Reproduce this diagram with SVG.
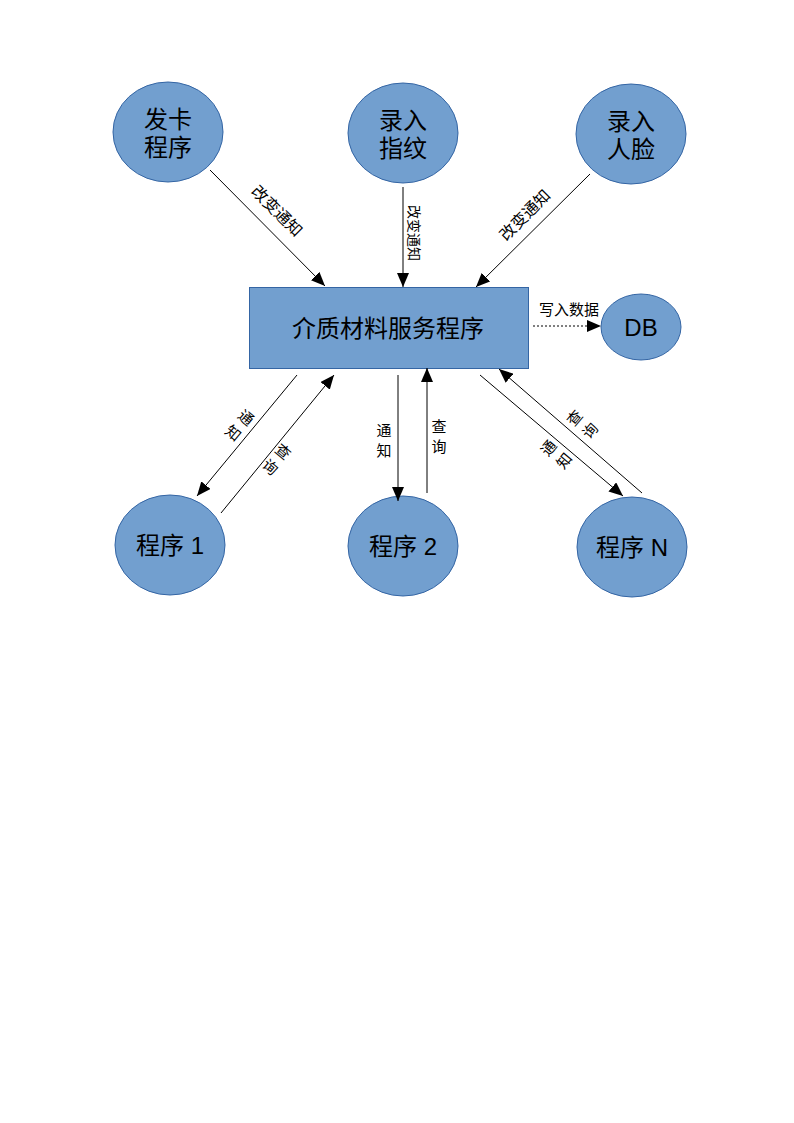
<svg xmlns="http://www.w3.org/2000/svg" width="794" height="1123" viewBox="0 0 794 1123">
<style>
.node{fill:#729fcf;stroke:#3465a4;stroke-width:1}
.nt{font-family:"Liberation Sans","Noto Sans CJK SC",sans-serif;font-size:24px;fill:#000;text-anchor:middle}
.lt{font-family:"Liberation Sans","Noto Sans CJK SC",sans-serif;font-size:15px;fill:#000;text-anchor:middle}
.ln{stroke:#000;stroke-width:1;fill:none}
</style>
<defs>
<marker id="ah" markerUnits="userSpaceOnUse" markerWidth="16" markerHeight="12" refX="14" refY="6" orient="auto">
<path d="M0,0 L14,6 L0,12 z" fill="#000"/>
</marker>
</defs>
<rect width="794" height="1123" fill="#fff"/>
<g id="n-faka"><ellipse class="node" cx="168" cy="132" rx="55" ry="50"/><text class="nt" x="168" y="128">发卡</text><text class="nt" x="168" y="156">程序</text></g>
<g id="n-zhiwen"><ellipse class="node" cx="403" cy="133" rx="55" ry="50"/><text class="nt" x="403" y="129">录入</text><text class="nt" x="403" y="157">指纹</text></g>
<g id="n-renlian"><ellipse class="node" cx="631" cy="134" rx="55" ry="50"/><text class="nt" x="631" y="130">录入</text><text class="nt" x="631" y="158">人脸</text></g>
<g id="n-service"><rect class="node" x="249.500" y="287.500" width="279" height="81"/><text class="nt" x="388" y="337">介质材料服务程序</text></g>
<g id="n-db"><ellipse class="node" cx="641" cy="327" rx="40" ry="33"/><text class="nt" x="641" y="336">DB</text></g>
<g id="n-p1"><ellipse class="node" cx="170" cy="545" rx="55" ry="50"/><text class="nt" x="170" y="554">程序 1</text></g>
<g id="n-p2"><ellipse class="node" cx="403" cy="546" rx="55" ry="50"/><text class="nt" x="403" y="555">程序 2</text></g>
<g id="n-pn"><ellipse class="node" cx="632" cy="547" rx="55" ry="50"/><text class="nt" x="632" y="556">程序 N</text></g>
<g id="connectors">
<line class="ln" x1="210" y1="170" x2="325" y2="286" marker-end="url(#ah)"/>
<line class="ln" x1="403" y1="187" x2="403" y2="287" marker-end="url(#ah)"/>
<line class="ln" x1="590" y1="174" x2="476" y2="287" marker-end="url(#ah)"/>
<line class="ln" x1="533" y1="326" x2="601" y2="326" stroke-dasharray="2,2" marker-end="url(#ah)"/>
<line class="ln" x1="297" y1="375" x2="197" y2="496" marker-end="url(#ah)"/>
<line class="ln" x1="221" y1="513" x2="334" y2="375" marker-end="url(#ah)"/>
<line class="ln" x1="398" y1="375" x2="398" y2="501" marker-end="url(#ah)"/>
<line class="ln" x1="427" y1="493" x2="427" y2="368" marker-end="url(#ah)"/>
<line class="ln" x1="480" y1="375" x2="623" y2="496" marker-end="url(#ah)"/>
<line class="ln" x1="642" y1="493" x2="499" y2="369" marker-end="url(#ah)"/>
<text class="lt" transform="translate(273,215) rotate(45)" style="font-size:16px">改变通知</text>
<text class="lt" transform="translate(409,233) rotate(90)" style="font-size:14px">改变通知</text>
<text class="lt" transform="translate(529,219) rotate(-45)" style="font-size:16px">改变通知</text>
<text class="lt" x="569" y="315">写入数据</text>
<g transform="translate(240,425) rotate(40)"><text class="lt" x="0" y="-4">通</text><text class="lt" x="0" y="16">知</text></g>
<g transform="translate(277,459) rotate(40)"><text class="lt" x="0" y="-4">查</text><text class="lt" x="0" y="16">询</text></g>
<text class="lt" x="384" y="436">通</text><text class="lt" x="384" y="456">知</text>
<text class="lt" x="439" y="432">查</text><text class="lt" x="439" y="452">询</text>
<g transform="translate(582,424) rotate(-50)"><text class="lt" x="0" y="-4">查</text><text class="lt" x="0" y="16">询</text></g>
<g transform="translate(556,454) rotate(-50)"><text class="lt" x="0" y="-4">通</text><text class="lt" x="0" y="16">知</text></g>
</g>
</svg>
